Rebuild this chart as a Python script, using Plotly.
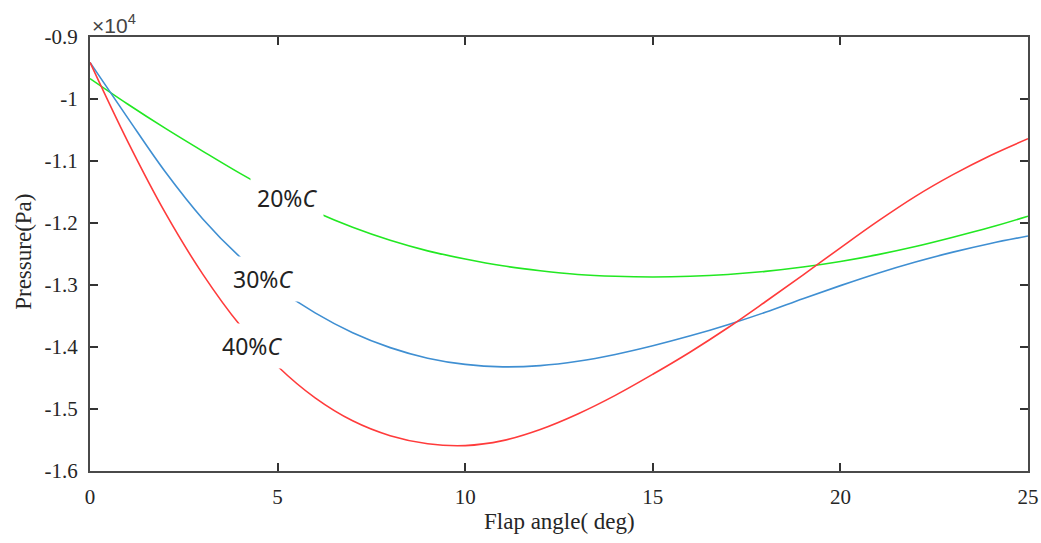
import plotly.graph_objects as go

# Flap angle (deg)
flap_angle = list(range(0, 26))

# Pressure in units of 1e4 Pa
p_20 = [-0.967, -1.008, -1.047, -1.084, -1.120, -1.153, -1.182, -1.207, -1.228, -1.245,
        -1.258, -1.269, -1.277, -1.283, -1.286, -1.287, -1.286, -1.283, -1.278, -1.271,
        -1.262, -1.251, -1.238, -1.223, -1.207, -1.189]
p_30 = [-0.941, -1.030, -1.117, -1.193, -1.255, -1.305, -1.345, -1.377, -1.401, -1.418,
        -1.428, -1.432, -1.430, -1.423, -1.412, -1.398, -1.382, -1.364, -1.344, -1.322,
        -1.301, -1.281, -1.263, -1.247, -1.233, -1.221]
p_40 = [-0.941, -1.068, -1.183, -1.282, -1.365, -1.431, -1.482, -1.519, -1.543, -1.556,
        -1.559, -1.551, -1.533, -1.508, -1.478, -1.444, -1.408, -1.369, -1.327, -1.284,
        -1.240, -1.197, -1.157, -1.122, -1.091, -1.064]

series_names = ["20%C", "30%C", "40%C"]
series_colors = ["#22e822", "#3f8fd2", "#ff3b3b"]
label_text = ["20%<i>C</i>", "30%<i>C</i>", "40%<i>C</i>"]
label_x = [5.24, 4.61, 4.32]
label_y = [-1.160, -1.290, -1.398]

x_ticks = [0, 5, 10, 15, 20, 25]
y_ticks = [-0.9, -1.0, -1.1, -1.2, -1.3, -1.4, -1.5, -1.6]
y_tick_text = ["-0.9", "-1", "-1.1", "-1.2", "-1.3", "-1.4", "-1.5", "-1.6"]

fig = go.Figure()
for name, ys, col in zip(series_names, [p_20, p_30, p_40], series_colors):
    fig.add_trace(go.Scatter(x=flap_angle, y=ys, mode="lines", name=name,
                             line=dict(color=col, width=1.6, shape="spline", smoothing=1.0)))

for txt, lx, ly in zip(label_text, label_x, label_y):
    fig.add_annotation(x=lx, y=ly, text=txt, showarrow=False, xref="x", yref="y",
                       font=dict(family="Noto Sans", size=23, color="#222222"),
                       bgcolor="white", borderpad=6)

fig.add_annotation(x=0, y=1, xref="paper", yref="paper", xanchor="left", yanchor="bottom",
                   text="×10<sup>4</sup>", showarrow=False, xshift=0, yshift=-2,
                   font=dict(family="Liberation Sans", size=21, color="#444444"))

title_font = dict(family="Liberation Serif", size=23, color="#262626")
fig.add_annotation(x=0.5, y=-0.1175, xref="paper", yref="paper", xanchor="center", yanchor="middle",
                   text="Flap angle( deg)", showarrow=False, font=title_font)
fig.add_annotation(x=-0.0704, y=0.505, xref="paper", yref="paper", xanchor="center", yanchor="middle",
                   text="Pressure(Pa)", textangle=-90, showarrow=False, font=title_font)

axis_common = dict(showline=True, linecolor="#4a4a4a", linewidth=2, mirror="ticks",
                   ticks="inside", ticklen=8, tickwidth=1.5, tickcolor="#333333",
                   showgrid=False, zeroline=False, automargin=False,
                   tickfont=dict(family="Liberation Serif", size=21, color="#262626"))

fig.update_layout(
    width=1041, height=543,
    margin=dict(l=90, r=13, t=37, b=72),
    paper_bgcolor="white", plot_bgcolor="white",
    showlegend=False,
    xaxis=dict(range=[0, 25], tickvals=x_ticks, ticklabelstandoff=6, **axis_common),
    yaxis=dict(range=[-1.6, -0.9], tickvals=y_ticks, ticktext=y_tick_text,
               ticklabelstandoff=6, **axis_common),
)

fig.write_html("out.html")
